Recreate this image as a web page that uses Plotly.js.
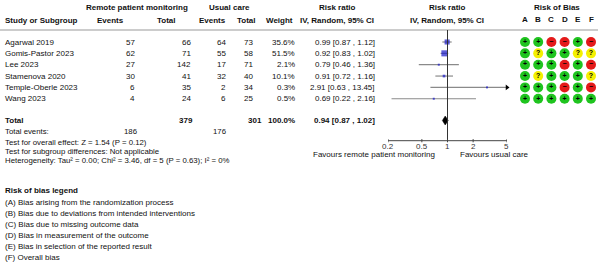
<!DOCTYPE html>
<html><head><meta charset="utf-8">
<script src="https://cdn.plot.ly/plotly-3.0.1.min.js"></script>
<style>html,body{margin:0;padding:0;background:#fff}#chart{width:605px;height:270px}</style>
</head><body><div id="chart"></div>
<script>
// ---------------- data ----------------
const studies   = ["Agarwal 2019","Gomis-Pastor 2023","Lee 2023","Stamenova 2020","Temple-Oberle 2023","Wang 2023"];
const rpmEvents = [57, 62, 27, 30, 6, 4];
const rpmTotal  = [66, 71, 142, 41, 35, 24];
const ucEvents  = [64, 55, 17, 32, 2, 6];
const ucTotal   = [73, 58, 71, 40, 34, 25];
const weights   = [35.6, 51.5, 2.1, 10.1, 0.3, 0.5];
const rr        = [0.99, 0.92, 0.79, 0.91, 2.91, 0.69];
const rrLo      = [0.87, 0.83, 0.46, 0.72, 0.63, 0.22];
const rrHi      = [1.12, 1.02, 1.36, 1.16, 13.45, 2.16];
const robDomains = ["A","B","C","D","E","F"];
const rob = [
  ["+","+","-","-","+","-"],
  ["+","?","+","+","?","?"],
  ["+","+","+","-","+","-"],
  ["+","?","+","+","+","?"],
  ["+","+","+","-","+","-"],
  ["+","+","+","+","+","+"]
];
const totalRpm = 379, totalUc = 301, totalWeight = 100.0;
const totalEventsRpm = 186, totalEventsUc = 176;
const pooled = [0.94, 0.87, 1.02]; // est, lo, hi
const axisTicks = [0.2, 0.5, 1, 2, 5];
const axisTickText = ["0.2","0.5","1","2","5"];
const footer = [
  "Test for overall effect: Z = 1.54 (P = 0.12)",
  "Test for subgroup differences: Not applicable",
  "Heterogeneity: Tau² = 0.00; Chi² = 3.46, df = 5 (P = 0.63); I² = 0%"
];
const legendTitle = "Risk of bias legend";
const legendItems = [
  "(A) Bias arising from the randomization process",
  "(B) Bias due to deviations from intended interventions",
  "(C) Bias due to missing outcome data",
  "(D) Bias in measurement of the outcome",
  "(E) Bias in selection of the reported result",
  "(F) Overall bias"
];

// ---------------- layout constants ----------------
const W = 605, H = 270;
const FONT = "Liberation Sans, Arial, sans-serif";
const TXT = "#111";
const rowY0 = 42, rowStep = 11.35;
const rowY = studies.map((s, i) => rowY0 + i * rowStep);
const totalY = 120.5;
const axisY = 140.7;
const forestL = 388, forestR = 507;
const robX0 = 525, robStep = 13.2;
const robX = robDomains.map((d, i) => robX0 + i * robStep);
const robColor = {"+": "#1fc41f", "-": "#e41a1a", "?": "#f4f000"};
const robSym = {"+": "+", "-": "−", "?": "?"};
const FS = 7.8; // footer font size
const tMin = axisTicks[0], tMax = axisTicks[axisTicks.length - 1];

const ann = [];
function T(x, y, text, anchor, size, bold, color) {
  ann.push({xref: "x2", yref: "y", x: x, y: y, text: bold ? "<b>" + text + "</b>" : text,
    showarrow: false, xanchor: anchor || "left", yanchor: "middle",
    font: {family: FONT, size: size || 8, color: color || TXT}});
}

// headers
T(137, 7, "Remote patient monitoring", "center", 8, true);
T(229, 7, "Usual care", "center", 8, true);
T(337, 7, "Risk ratio", "center", 8, true);
T(447, 7, "Risk ratio", "center", 8, true);
T(557, 7, "Risk of Bias", "center", 8, true);
T(3, 20, "Study or Subgroup", "left", 8, true);
T(110, 20, "Events", "center", 8, true);
T(166.5, 20, "Total", "center", 8, true);
T(212, 20, "Events", "center", 8, true);
T(246, 20, "Total", "center", 8, true);
T(279, 20, "Weight", "center", 8, true);
T(337, 20, "IV, Random, 95% CI", "center", 8, true);
T(447, 20, "IV, Random, 95% CI", "center", 8, true);
robDomains.forEach((d, j) => T(robX[j], 19, d, "center", 8, true));

// rows
studies.forEach((s, i) => {
  const y = rowY[i];
  T(3, y, s, "left");
  T(137, y, String(rpmEvents[i]), "right");
  T(193, y, String(rpmTotal[i]), "right");
  T(228, y, String(ucEvents[i]), "right");
  T(255, y, String(ucTotal[i]), "right");
  T(297, y, weights[i].toFixed(1) + "%", "right");
  T(377, y, rr[i].toFixed(2) + " [" + rrLo[i].toFixed(2) + " , " + rrHi[i].toFixed(2) + "]", "right");
});

// total
T(3, totalY, "Total", "left", 8, true);
T(195, totalY, String(totalRpm), "right", 8, true);
T(264, totalY, String(totalUc), "right", 8, true);
T(297, totalY, totalWeight.toFixed(1) + "%", "right", 8, true);
T(377, totalY, pooled[0].toFixed(2) + " [" + pooled[1].toFixed(2) + " , " + pooled[2].toFixed(2) + "]", "right", 8, true);
T(3, 131.7, "Total events:", "left", FS);
T(139, 131.7, String(totalEventsRpm), "right", FS);
T(228, 131.7, String(totalEventsUc), "right", FS);
footer.forEach((f, k) => T(3, 142.3 + k * 9.2, f, "left", FS));

// favours
T(437, 154, "Favours remote patient monitoring", "right", 8);
T(458, 154, "Favours usual care", "left", 8);

// axis tick labels (annotations on the log axis take log10 positions)
axisTicks.forEach((v, k) => ann.push({xref: "x", yref: "y", x: Math.log10(v), y: 146, text: axisTickText[k],
  showarrow: false, xanchor: "center", yanchor: "middle", font: {family: FONT, size: 8, color: "#333"}}));

// legend
T(3, 190, legendTitle, "left", 8, true);
legendItems.forEach((t, k) => T(3, 202 + k * 11.1, t, "left", 8));

// ---------------- traces ----------------
const traces = [];
studies.forEach((s, i) => {
  traces.push({type: "scatter", mode: "lines", xaxis: "x", yaxis: "y",
    x: [rrLo[i], Math.min(rrHi[i], tMax)], y: [rowY[i], rowY[i]],
    line: {color: "#8a8a8a", width: 1.2}, hoverinfo: "skip", showlegend: false});
});
// arrows for truncated CIs
const arrX = [], arrY = [];
studies.forEach((s, i) => { if (rrHi[i] > tMax) { arrX.push(tMax); arrY.push(rowY[i]); } });
traces.push({type: "scatter", mode: "markers", xaxis: "x", yaxis: "y", x: arrX, y: arrY,
  marker: {symbol: "triangle-right", size: 5, color: "#000"}, cliponaxis: false, hoverinfo: "skip", showlegend: false});
// squares
traces.push({type: "scatter", mode: "markers", xaxis: "x", yaxis: "y", x: rr, y: rowY,
  marker: {symbol: "square", color: "#1818c8", size: weights.map(w => Math.max(2, 0.85 * Math.sqrt(w))), line: {width: 0}},
  hoverinfo: "skip", showlegend: false});
// diamond
const dh = 4.5;
traces.push({type: "scatter", mode: "lines", xaxis: "x", yaxis: "y", fill: "toself", fillcolor: "#000",
  x: [pooled[1], pooled[0], pooled[2], pooled[0], pooled[1]],
  y: [totalY, totalY - dh, totalY, totalY + dh, totalY],
  line: {color: "#000", width: 0.5}, hoverinfo: "skip", showlegend: false});
// risk of bias
const rbx = [], rby = [], rbc = [], rbt = [];
rob.forEach((row, i) => row.forEach((v, j) => { rbx.push(robX[j]); rby.push(rowY[i]); rbc.push(robColor[v]); rbt.push("<b>" + robSym[v] + "</b>"); }));
traces.push({type: "scatter", mode: "markers+text", xaxis: "x2", yaxis: "y", x: rbx, y: rby, text: rbt,
  textposition: "middle center", textfont: {family: FONT, size: 7, color: "#000"},
  marker: {symbol: "circle", size: 10, color: rbc, line: {width: 0}}, cliponaxis: false,
  hoverinfo: "skip", showlegend: false});

// axis line + ticks drawn as shapes on the log axis (data coords)
const shapes = [
  {type: "line", xref: "x2", yref: "y", x0: 0, x1: 598, y0: 30, y1: 30, line: {color: "#9a9a9a", width: 1.2}},
  {type: "line", xref: "x", yref: "y", x0: 1, x1: 1, y0: 30, y1: axisY, line: {color: "#333", width: 1}},
  {type: "line", xref: "x", yref: "y", x0: tMin, x1: tMax, y0: axisY, y1: axisY, line: {color: "#444", width: 1}}
];
axisTicks.forEach(v => shapes.push({type: "line", xref: "x", yref: "y", x0: v, x1: v, y0: axisY - 1.6, y1: axisY + 1.6, line: {color: "#444", width: 1}}));

const layout = {
  width: W, height: H, margin: {l: 0, r: 0, t: 0, b: 0},
  paper_bgcolor: "#fff", plot_bgcolor: "rgba(0,0,0,0)", showlegend: false,
  font: {family: FONT, size: 8, color: TXT},
  xaxis: {type: "log", domain: [forestL / W, forestR / W], range: [Math.log10(tMin), Math.log10(tMax)],
    anchor: "y", visible: false, fixedrange: true},
  xaxis2: {domain: [0, 1], range: [0, W], anchor: "y", visible: false, fixedrange: true},
  yaxis: {domain: [0, 1], range: [H, 0], visible: false, fixedrange: true},
  shapes: shapes,
  annotations: ann
};
Plotly.newPlot("chart", traces, layout, {staticPlot: true, displayModeBar: false});
</script>
</body></html>
